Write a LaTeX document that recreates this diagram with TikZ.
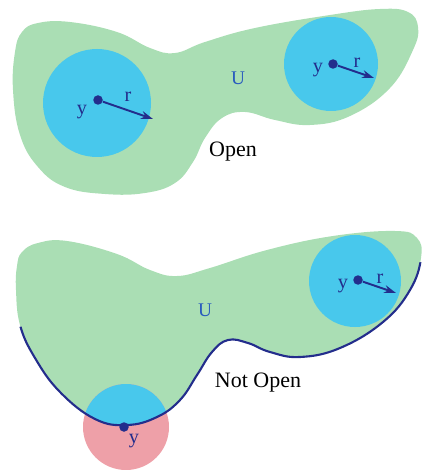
\documentclass[tikz,border=0pt]{standalone}
\usepackage{fontspec}
\setmainfont{Liberation Serif}
\usetikzlibrary{arrows.meta}
\definecolor{SetGreen}{RGB}{170,222,180}
\definecolor{BallBlue}{RGB}{72,200,236}
\definecolor{BallPink}{RGB}{238,160,168}
\definecolor{EdgeNavy}{RGB}{35,45,140}
\definecolor{LabelBlue}{RGB}{40,90,190}
\tikzset{
  blob/.style={fill=SetGreen,draw=none},
  ball/.style={fill=BallBlue},
  badball/.style={fill=BallPink},
  centre/.style={circle,fill=EdgeNavy,inner sep=0pt,minimum size=1.9mm},
  radius arrow/.style={draw=EdgeNavy,line width=1.1pt,-{Stealth[length=2.4mm,width=1.6mm]}},
  boundary/.style={draw=EdgeNavy,line width=1.2pt},
}
\tikzset{lab/.style={text=EdgeNavy,font=\fontsize{11.5}{13}\selectfont,inner sep=1pt}, setname/.style={text=LabelBlue,font=\fontsize{11}{13}\selectfont}, caption/.style={font=\fontsize{12.5}{15}\selectfont}}

\begin{document}
\begin{tikzpicture}[x=0.2mm,y=-0.2mm]
\useasboundingbox (0,0) rectangle (422,470);
% open set
\fill[blob] plot[smooth cycle,tension=0.7] coordinates {(22,32) (38,23) (70,22) (117,32) (150,48) (175,53) (205,42) (255,28) (330,15) (380,9) (408,12) (418,27) (413,50) (390,88) (350,116) (310,125) (275,120) (245,112) (222,118) (205,138) (193,162) (175,183) (145,193) (105,194) (65,187) (38,167) (20,135) (13,90) (15,52)};
\fill[ball] (97,103) circle (54);
\fill[ball] (331,64) circle (47);
\node[centre] (yA) at (98,100) {};
\coordinate (rA) at (153,119);
\draw[radius arrow] (yA) -- (rA);
\node[lab] (yAlab) at (82,112) {y};
\node[lab] (rAlab) at (128,97) {r};
\node[centre] (yB) at (333,64) {};
\coordinate (rB) at (374,78);
\draw[radius arrow] (yB) -- (rB);
\node[lab] (yBlab) at (318,70) {y};
\node[lab] (rBlab) at (357,63) {r};
\node[setname] (UA) at (238,78) {U};
\node[caption] (openlab) at (233,152) {Open};
% not open set
\path[save path=\lowerblob] plot[smooth cycle,tension=0.7] coordinates {(22,252) (38,243) (67,241) (117,254) (150,270) (177,276) (210,268) (267,250) (333,236) (395,231) (417,238) (421,258) (410,290) (383,322) (340,348) (300,357) (270,352) (248,343) (228,340) (212,352) (197,375) (180,400) (157,417) (127,425) (95,419) (60,392) (35,358) (20,325) (16,290) (17,266)};
\fill[blob,use path=\lowerblob];
\fill[badball] (126,427) circle (43);
\begin{scope}
\clip[use path=\lowerblob];
\fill[ball] (126,427) circle (43);
\end{scope}
\fill[ball] (355,281) circle (46);
\begin{scope}
\clip (0,330) -- (0,470) -- (422,470) -- (422,262) -- cycle;
\draw[boundary,use path=\lowerblob];
\end{scope}
\node[centre] (yC) at (358,280) {};
\coordinate (rC) at (396,293);
\draw[radius arrow] (yC) -- (rC);
\node[lab] (yClab) at (343,286) {y};
\node[lab] (rClab) at (380,279) {r};
\node[centre] (yD) at (124,427) {};
\node[lab] (yDlab) at (134,441) {y};
\node[setname] (UB) at (205,310) {U};
\node[caption] (notopenlab) at (258,383) {Not Open};
\end{tikzpicture}
\end{document}
